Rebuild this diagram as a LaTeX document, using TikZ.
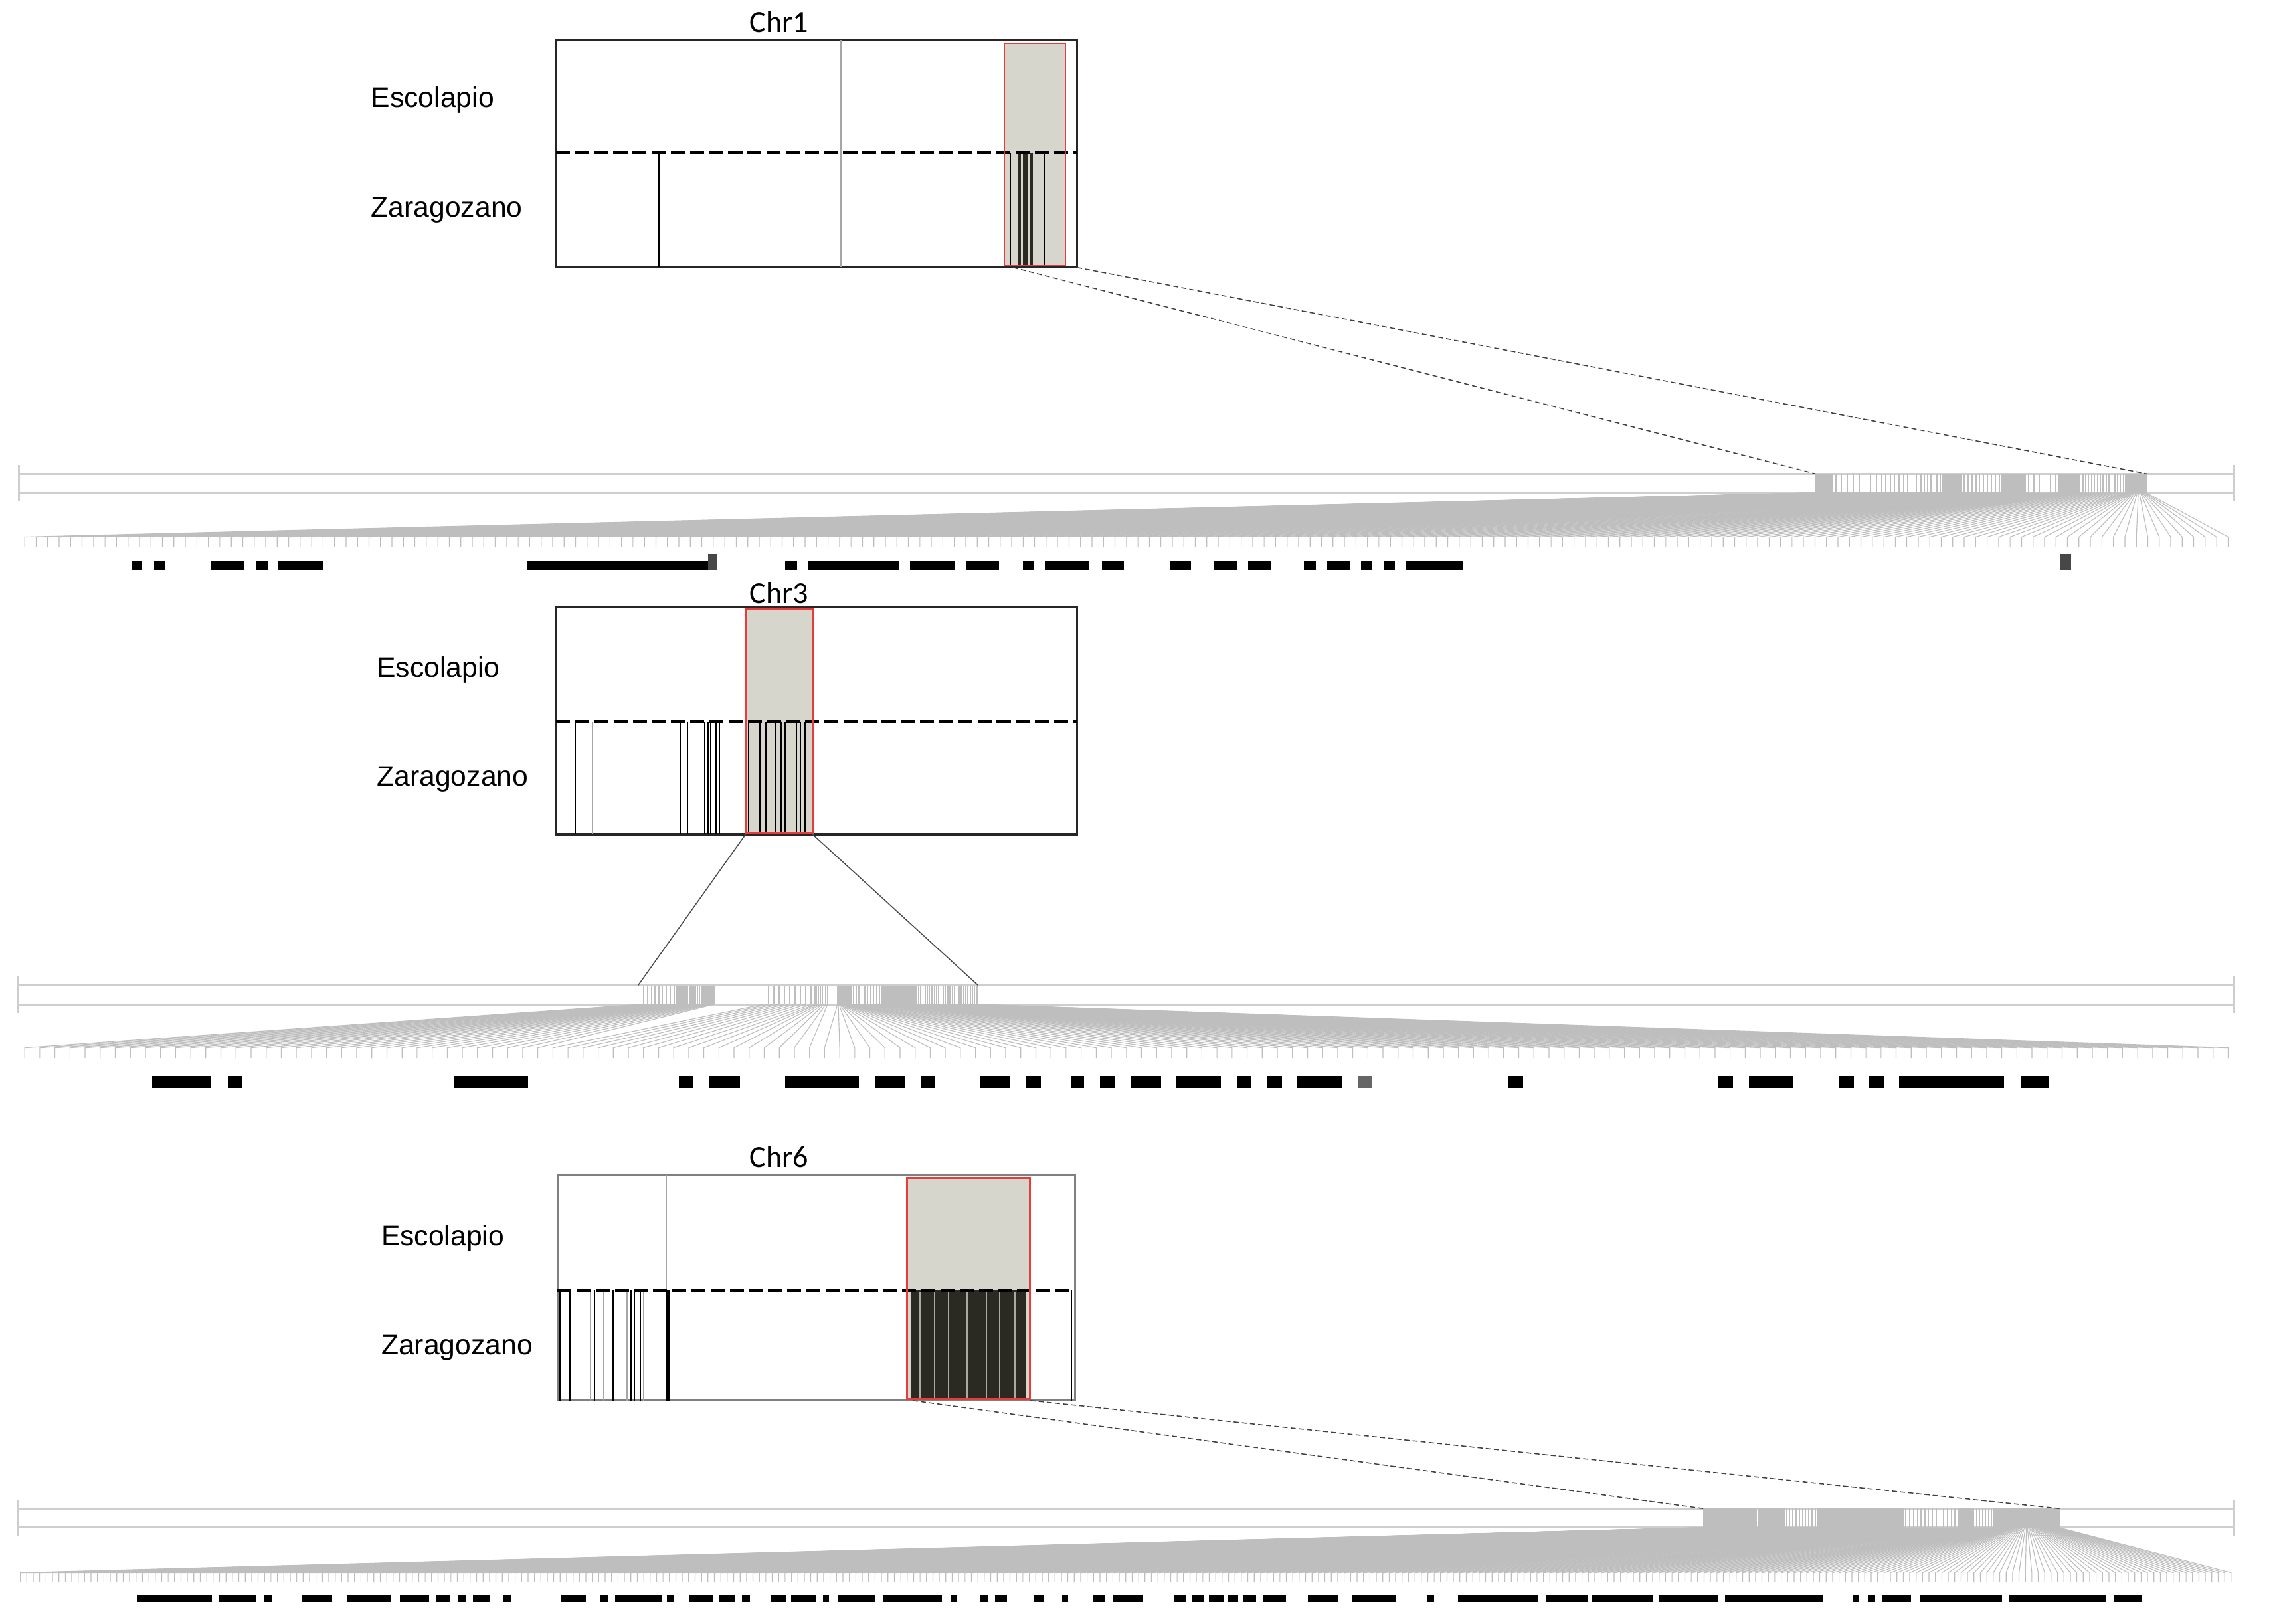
\documentclass[tikz,border=0pt]{standalone}
\usepackage{fontspec}
\setmainfont{Liberation Sans}
\newfontfamily\calib{Carlito}
\newcount\fanidx
\definecolor{fangrey}{RGB}{190,190,190}
\definecolor{trackgrey}{RGB}{206,206,206}
\definecolor{hlfill}{RGB}{214,214,205}
\definecolor{hlred}{RGB}{232,60,60}
\definecolor{darkband}{RGB}{42,42,34}
\definecolor{lightband}{RGB}{170,170,160}
\tikzset{
 markline/.style={draw=fangrey, line width=0.45pt},
 fanline/.style={draw=fangrey, line width=0.3pt},
 trackline/.style={draw=trackgrey, line width=0.8pt},
 boxframe/.style={draw=black!85, line width=0.8pt},
 midline/.style={draw=black, line width=1.3pt, dash pattern=on 5.5pt off 2pt},
 hlbox/.style={draw=hlred, line width=0.7pt},
 featline/.style={draw=black, line width=0.55pt},
 thickfeat/.style={draw=darkband, line width=0.9pt},
 greyline/.style={draw=black!35, line width=0.5pt},
 connector/.style={draw=black!75, line width=0.4pt, dash pattern=on 2pt off 1.2pt},
 solidconn/.style={draw=black!70, line width=0.4pt},
 sample/.style={font=\fontsize{11.1}{13}\selectfont, anchor=base west, inner sep=0pt},
 chrlab/.style={font=\calib\fontsize{12}{14}\selectfont, anchor=base, inner sep=0pt},
}
% #1 y top of track, #2 y bottom of track, #3 y fan end, #4 y tick end,
% #5 x first tick, #6 x last tick, #7 number of markers, #8 segments x0/x1/n
\newcommand\drawfan[8]{%
 \global\fanidx=0
 \foreach \xa/\xb/\nn in {#8}{%
  \foreach \j in {1,...,\nn}{%
   \global\advance\fanidx by 1
   \pgfmathsetmacro\mx{\xa+(\xb-\xa)*((\j-0.5)/\nn)}%
   \pgfmathsetmacro\tx{#5+(#6-#5)*((\the\fanidx-1)/(#7-1))}%
   \draw[markline] (\mx,#1) -- (\mx,#2);
   \draw[fanline] (\mx,#2) -- (\tx,#3) -- (\tx,#4);
  }%
 }%
}
\newcommand\drawtrack[4]{% #1 y top, #2 y bottom, #3 x left, #4 x right
 \draw[trackline] (#3,#1) -- (#4,#1);
 \draw[trackline] (#3,#2) -- (#4,#2);
 \draw[trackline] (#3,#1-6) -- (#3,#2+6);
 \draw[trackline] (#4,#1-6) -- (#4,#2+6);
}
\newcommand\drawbars[3]{%
 \foreach \a/\b in {#3}{\fill[black] (\a,#1) rectangle (\b,#2);}%
}
\begin{document}
\begin{tikzpicture}[x=0.02cm,y=-0.02cm]
\useasboundingbox (0,0) rectangle (1568,1117);
\fill[white] (0,0) rectangle (1568,1117);

% ================= Chr1 =================
\draw[boxframe] (382.5,27.4) rectangle (741,183.6);
\fill[hlfill] (691,29.7) rectangle (733,182.8);
\draw[greyline] (578.6,27.4) -- (578.6,183.6);
\draw[featline] (453.4,105) -- (453.4,183.6);
\foreach \x in {694.9,718.5}{\draw[featline] (\x,105) -- (\x,183);}
\foreach \x in {701.5,704.6,706.7,709.8}{\draw[thickfeat] (\x,105) -- (\x,183);}
\draw[midline] (382.5,105) -- (741,105);
\draw[hlbox] (691,29.7) rectangle (733,182.8);
\node[chrlab] (chr1) at (536,22) {Chr1};
\node[sample] (esc1) at (255,74) {Escolapio};
\node[sample] (zar1) at (255,149) {Zaragozano};

\drawtrack{326}{339}{13}{1537}
\drawfan{326}{339}{369.5}{376}{17}{1533}{193}{1249/1261/25,1261/1293/8,1293/1323/10,1323/1336/6,1336/1350/30,1350/1377/10,1377/1394/25,1394/1416/6,1416/1430/35,1430/1462/16,1462/1477/22}
\coordinate (c1l) at (697,184);
\coordinate (c1r) at (741,184);
\coordinate (t1l) at (1249,326);
\coordinate (t1r) at (1477,326);
\draw[connector] (c1l) -- (t1l);
\draw[connector] (c1r) -- (t1r);
\drawbars{386}{392}{90.5/98,106/114,145/168,176/184,191.5/222.5,362.4/487.2,540.2/548.4,556.3/618.4,626.2/656.8,665/687.4,703.8/711.2,718.9/749.5,758.2/773.3,804.8/819.4,835.5/851,858.8/874.3,897.1/905.4,913.2/928.7,936.5/944.1,952/959.8,967/1006.4}
\fill[black!72] (487.2,381.3) rectangle (493.6,392);
\fill[black!72] (1417,381) rectangle (1425,392);

% ================= Chr3 =================
\draw[boxframe] (382.6,417.8) rectangle (741,574);
\fill[hlfill] (513,418.7) rectangle (559,573.4);
\foreach \x in {395.7,468,473,485,487,489,492.4,495}{\draw[featline] (\x,496.6) -- (\x,574);}
\draw[greyline] (407.5,496.6) -- (407.5,574);
\foreach \x in {515,523,527,533.6,537.5,540,548,550.6,554}{\draw[featline] (\x,496.6) -- (\x,573);}
\draw[midline] (382.6,496.6) -- (741,496.6);
\draw[hlbox] (513,418.7) rectangle (559,573.4);
\node[chrlab] (chr3) at (536,415) {Chr3};
\node[sample] (esc3) at (259,466) {Escolapio};
\node[sample] (zar3) at (259,541) {Zaragozano};

\drawtrack{678}{691}{12}{1537}
\drawfan{678}{691}{721}{728}{17}{1533}{147}{439/465/10,465/478/15,478/492/10,523/560/10,560/570/8,576/586/20,586/606/10,606/628/35,628/673/29}
\coordinate (c3l) at (513,574);
\coordinate (c3r) at (559,574);
\coordinate (t3l) at (439,678);
\coordinate (t3r) at (673,678);
\draw[solidconn] (c3l) -- (t3l);
\draw[solidconn] (c3r) -- (t3r);
\drawbars{740.4}{748.6}{104.7/145.3,156.8/166.4,312/363.4,467/477,488/509,540/591,602/623,634/643,674/695,706/716,737/746,757/767,778/799,809/840,851/861,872/882,892/923,1037.5/1048,1182/1192.5,1203.5/1234,1265.5/1275.5,1286/1296,1306.7/1379,1390/1410}
\fill[black!60] (934,740.4) rectangle (944,748.6);

% ================= Chr6 =================
\draw[draw=black!50, line width=0.7pt] (383.5,808.5) rectangle (739.6,963.7);
\fill[hlfill] (624,810.6) rectangle (708.5,962.6);
\draw[greyline] (458.3,808.5) -- (458.3,887.6);
\foreach \x in {385,391.9,409,422,433.9,436.5,440.4,458.8,460,737}{\draw[featline] (\x,887.6) -- (\x,963.7);}
\foreach \x in {406.3,415.5,431.3,443}{\draw[greyline] (\x,887.6) -- (\x,963.7);}
\fill[darkband] (627,887.6) rectangle (706,962.6);
\foreach \x in {633,643,652.5,665.6,678.7,687.9,698.4}{\draw[draw=lightband, line width=0.5pt] (\x,889) -- (\x,962);}
\draw[midline] (383.5,887.6) -- (739.6,887.6);
\draw[hlbox] (624,810.6) rectangle (708.5,962.6);
\node[chrlab] (chr6) at (536,803) {Chr6};
\node[sample] (esc6) at (262,857) {Escolapio};
\node[sample] (zar6) at (262,932) {Zaragozano};

\drawtrack{1038}{1051}{12}{1537}
\drawfan{1038}{1051}{1082}{1088.5}{14}{1535}{345}{1172/1208/60,1208/1210/2,1210/1228/35,1228/1250/10,1250/1310/110,1310/1349/15,1349/1357/20,1357/1373/8,1373/1384/38,1384/1417/47}
\coordinate (c6l) at (628,963.7);
\coordinate (c6r) at (709,963.7);
\coordinate (t6l) at (1172,1038);
\coordinate (t6r) at (1417,1038);
\draw[connector] (c6l) -- (t6l);
\draw[connector] (c6r) -- (t6r);
\drawbars{1097.6}{1102.4}{94.5/146,151/176,182/187,207.5/228.5,238.5/269,275/295,300/309.5,315.5/321,325.5/337,346/351.5,386/403,413/418,423/455,459/464,474/491,495/505.5,510.5/516,530/541,544.5/561.7,566.3/570.4,576.8/601.9,607.4/648,654/658,674.6/680.2,684.6/692.9,711/718.4,730.8/734.9,752/760,765.5/786.6,808/816.3,820.4/828.5,831.9/841.9,844.6/851.9,855/864.3,869.3/884.8,900/920.5,930.6/960.2,981.7/986.7,1003.2/1058,1063.5/1092.8,1094.8/1137.6,1141/1182,1187/1254,1275/1279,1285/1290,1295/1315,1321/1377.5,1382/1449,1454/1474}
\end{tikzpicture}
\end{document}
